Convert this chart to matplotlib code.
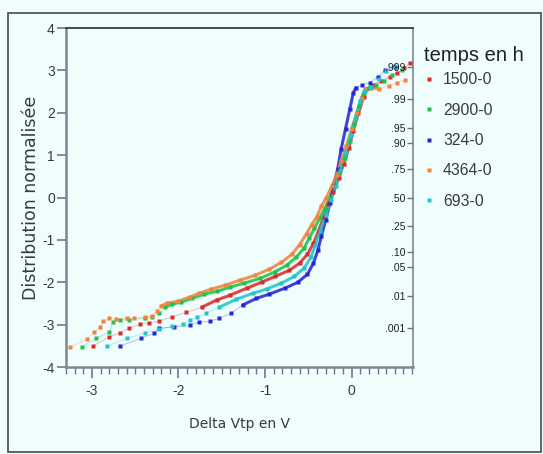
import matplotlib.pyplot as plt
from matplotlib.lines import Line2D
from matplotlib.patches import Rectangle

BG = "#effdfd"
TXT = "#3a3a3a"

# normal probability plot of Delta Vtp, one series per ageing time
series_labels = ["1500-0", "2900-0", "324-0", "4364-0", "693-0"]
series_colors = ["#dc2a2a", "#1ec24a", "#2626d6", "#f0843e", "#22c6c6"]

x_1500 = [-2.99, -2.80, -2.68, -2.57, -2.44, -2.34, -2.22, -2.08, -1.91, -1.73,
          -1.56, -1.41, -1.21, -1.04, -0.88, -0.72, -0.60, -0.51, -0.44, -0.38,
          -0.32, -0.27, -0.21, -0.15, -0.09, -0.03, 0.02, 0.08, 0.14, 0.17,
          0.25, 0.34, 0.44, 0.53, 0.61, 0.67]
y_1500 = [-3.51, -3.29, -3.20, -3.08, -2.99, -2.96, -2.92, -2.82, -2.71, -2.59,
          -2.42, -2.31, -2.14, -2.00, -1.86, -1.72, -1.55, -1.34, -1.08, -0.78,
          -0.45, -0.16, 0.12, 0.45, 0.80, 1.18, 1.58, 2.00, 2.38, 2.56,
          2.66, 2.75, 2.85, 2.94, 3.06, 3.18]

x_2900 = [-3.12, -2.95, -2.80, -2.76, -2.68, -2.57, -2.39, -2.31, -2.22, -2.15,
          -2.08, -1.97, -1.84, -1.70, -1.55, -1.41, -1.24, -1.06, -0.89, -0.75,
          -0.64, -0.55, -0.49, -0.43, -0.37, -0.31, -0.25, -0.20, -0.14, -0.08,
          -0.02, 0.03, 0.09, 0.14, 0.20, 0.28, 0.37, 0.47, 0.58]
y_2900 = [-3.53, -3.32, -3.18, -2.94, -2.89, -2.89, -2.85, -2.82, -2.73, -2.59,
          -2.52, -2.47, -2.38, -2.28, -2.21, -2.12, -2.02, -1.91, -1.76, -1.60,
          -1.41, -1.20, -0.96, -0.73, -0.49, -0.26, 0.00, 0.28, 0.59, 0.94,
          1.34, 1.74, 2.16, 2.47, 2.59, 2.66, 2.75, 2.89, 3.01]

x_324 = [-2.68, -2.43, -2.28, -2.22, -2.05, -1.87, -1.76, -1.64, -1.53, -1.39,
         -1.26, -1.10, -0.95, -0.77, -0.62, -0.51, -0.44, -0.39, -0.35, -0.30,
         -0.25, -0.21, -0.16, -0.12, -0.07, -0.02, 0.02, 0.05, 0.12, 0.21,
         0.30, 0.39, 0.50]
y_324 = [-3.51, -3.32, -3.20, -3.08, -3.06, -3.01, -2.94, -2.92, -2.85, -2.73,
         -2.54, -2.38, -2.28, -2.14, -2.00, -1.81, -1.55, -1.25, -0.92, -0.54,
         -0.14, 0.26, 0.68, 1.15, 1.62, 2.09, 2.47, 2.59, 2.66, 2.71,
         2.85, 3.01, 3.08]

x_4364 = [-3.25, -3.06, -2.98, -2.91, -2.87, -2.80, -2.72, -2.59, -2.51, -2.39,
          -2.31, -2.25, -2.20, -2.13, -2.01, -1.87, -1.76, -1.62, -1.46, -1.29,
          -1.12, -0.95, -0.81, -0.69, -0.60, -0.52, -0.46, -0.40, -0.35, -0.29,
          -0.23, -0.17, -0.12, -0.06, 0.00, 0.06, 0.12, 0.16, 0.23, 0.32,
          0.43, 0.52, 0.62]
y_4364 = [-3.53, -3.34, -3.18, -3.06, -2.92, -2.85, -2.87, -2.85, -2.85, -2.82,
          -2.80, -2.68, -2.56, -2.49, -2.45, -2.35, -2.26, -2.16, -2.07, -1.95,
          -1.84, -1.69, -1.53, -1.34, -1.11, -0.85, -0.64, -0.45, -0.21, 0.00,
          0.26, 0.54, 0.87, 1.22, 1.62, 2.00, 2.35, 2.56, 2.59, 2.56,
          2.64, 2.71, 2.78]

x_693 = [-2.83, -2.59, -2.39, -2.22, -2.07, -1.95, -1.87, -1.79, -1.68, -1.53,
         -1.33, -1.14, -0.98, -0.81, -0.66, -0.55, -0.47, -0.42, -0.36, -0.30,
         -0.24, -0.18, -0.13, -0.07, -0.01, 0.05, 0.10, 0.15, 0.23, 0.32,
         0.40, 0.49]
y_693 = [-3.51, -3.32, -3.20, -3.11, -3.04, -2.99, -2.89, -2.82, -2.73, -2.59,
         -2.40, -2.26, -2.16, -2.02, -1.86, -1.67, -1.41, -1.13, -0.78, -0.42,
         -0.07, 0.28, 0.66, 1.06, 1.48, 1.91, 2.28, 2.52, 2.61, 2.80,
         2.99, 3.11]

series_x = [x_1500, x_2900, x_324, x_4364, x_693]
series_y = [y_1500, y_2900, y_324, y_4364, y_693]

x_ticks = [-3, -2, -1, 0]
y_ticks = [-4, -3, -2, -1, 0, 1, 2, 3, 4]

# right-hand cumulative probability scale
prob_labels = [".999", ".99", ".95", ".90", ".75", ".50", ".25", ".10", ".05", ".01", ".001"]
prob_z = [3.09, 2.326, 1.645, 1.282, 0.674, 0.0, -0.674, -1.282, -1.645, -2.326, -3.09]

plt.rcParams["font.family"] = ["Liberation Sans", "DejaVu Sans"]
plt.rcParams["axes.unicode_minus"] = False

fig = plt.figure(figsize=(5.43, 4.54), dpi=100, facecolor=BG)
ax = fig.add_axes([0.1215, 0.1916, 0.6391, 0.7467], facecolor=BG)

# outer frame of the picture
fig.add_artist(Rectangle((0.0147, 0.0044), 0.981, 0.967, transform=fig.transFigure,
                         fill=False, ec="#4a4a4a", lw=1.2))

for xs, ys, col in zip(series_x, series_y, series_colors):
    # faint joining line through every point
    ax.plot(xs, ys, color=col, lw=0.7, alpha=0.3, zorder=2)
    # the dense middle part reads as a solid band
    dense = [(a, b) for a, b in zip(xs, ys) if -2.65 < b < 2.62]
    ax.plot([p[0] for p in dense], [p[1] for p in dense], color=col, lw=2.2,
            alpha=0.85, solid_capstyle="round", zorder=3)
    ax.plot(xs, ys, ls="", marker="s", ms=2.8, mec="none", color=col, zorder=4)

ax.set_xlim(-3.3, 0.71)
ax.set_ylim(-4, 4)
ax.set_xticks(x_ticks)
ax.set_xticks([t / 10 for t in range(-33, 8)], minor=True)
ax.set_yticks(y_ticks)
ax.tick_params(axis="x", which="major", direction="out", length=8, width=1.2,
               colors="#6f7785", labelcolor=TXT, labelsize=10, pad=4)
ax.tick_params(axis="x", which="minor", direction="out", length=5, width=1.0,
               colors="#6f7785")
ax.tick_params(axis="y", direction="out", length=6.5, width=1.2,
               colors="#6f7785", labelcolor=TXT, labelsize=10, pad=1.5)

ax.spines["left"].set_color("#7d8796")
ax.spines["left"].set_linewidth(1.8)
ax.spines["bottom"].set_color("#7d8796")
ax.spines["bottom"].set_linewidth(1.8)
ax.spines["top"].set_color("#3c3c3c")
ax.spines["top"].set_linewidth(1.3)
ax.spines["right"].set_color("#8a909a")
ax.spines["right"].set_linewidth(1.3)

ax.set_xlabel("Delta Vtp en V", fontsize=10, color=TXT, labelpad=14,
              family=["DejaVu Sans"])
ax.set_ylabel("Distribution normalisée", fontsize=12.5, color=TXT, labelpad=2,
              family=["DejaVu Sans"])

ax2 = ax.twinx()
ax2.set_ylim(ax.get_ylim())
ax2.set_yticks(prob_z)
ax2.set_yticklabels(prob_labels)
ax2.tick_params(axis="y", direction="in", length=4, width=1.0, colors="#6f7785",
                labelcolor="#1e1e1e", labelsize=7.5, pad=-5.5)
for lbl in ax2.get_yticklabels():
    lbl.set_horizontalalignment("right")
    lbl.set_family(["Liberation Sans Narrow", "Liberation Sans", "DejaVu Sans"])
for sp in ax2.spines.values():
    sp.set_visible(False)

handles = [Line2D([], [], ls="", marker="s", ms=3.5, mec="none", color=c)
           for c in series_colors]
leg = ax.legend(handles, series_labels, title="temps en h", loc="upper left",
                bbox_to_anchor=(0.781, 0.898), bbox_transform=fig.transFigure,
                frameon=False, fontsize=11.3, title_fontsize=14.5, labelspacing=0.98,
                handlelength=0.6, handletextpad=0.6, alignment="left",
                borderpad=0.0, borderaxespad=0.0)
leg._legend_box.sep = 5
for t in leg.get_texts():
    t.set_color(TXT)
leg.get_title().set_color("#222222")

fig.savefig("out.png", dpi=100, facecolor=BG)
